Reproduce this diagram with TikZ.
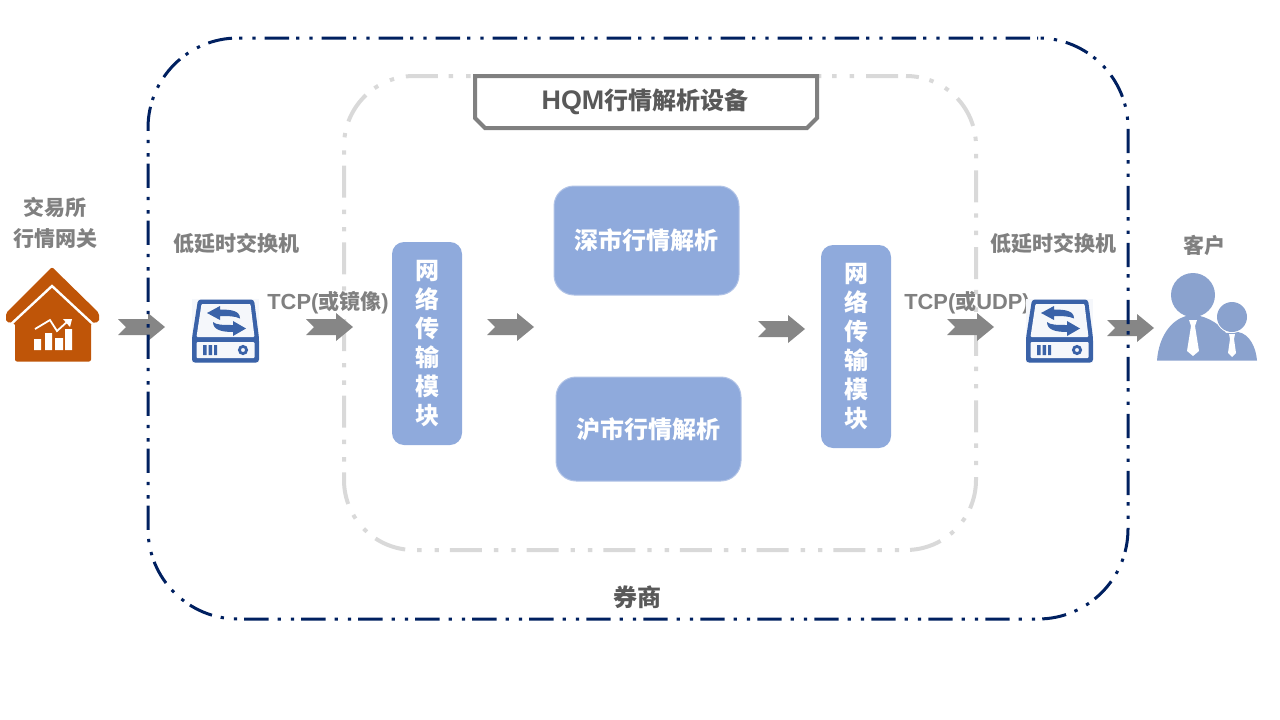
\documentclass[tikz,border=0pt]{standalone}
\usepackage{fontspec}
\setmainfont{Noto Sans CJK SC}
\newfontfamily\latinbold[Scale=1.04]{Liberation Sans}
\newfontfamily\titlebold[Scale=1.12]{Liberation Sans}
\usepackage{tikz}
\definecolor{navyline}{HTML}{002060}
\definecolor{greyline}{HTML}{D9D9D9}
\definecolor{boxblue}{HTML}{8FAADC}
\definecolor{iconblue}{HTML}{3A62A8}
\definecolor{iconpale}{HTML}{F5F7FB}
\definecolor{houseorange}{HTML}{BF5508}
\definecolor{peopleblue}{HTML}{8AA2CE}
\definecolor{arrowgrey}{HTML}{868686}
\tikzset{
    labeltext/.style={text=black!50, font=\fontsize{21}{31}\selectfont\bfseries, inner sep=0pt, align=center},
    darktext/.style={text=black!65, font=\fontsize{24}{30}\selectfont\bfseries, inner sep=0pt},
    modulebox/.style={fill=boxblue, draw=boxblue!70!white, line width=1pt, rounded corners=20pt, text=white, font=\fontsize{24}{30}\selectfont\bfseries, minimum width=185pt, inner sep=0pt},
    stackbox/.style={fill=boxblue, rounded corners=12pt, text=white, font=\fontsize{24}{28.6}\selectfont\bfseries, minimum width=70pt, minimum height=203pt, inner sep=0pt, align=center}
}
\newcommand{\flowarrow}[2]{\fill[arrowgrey, shift={(#1, #2)}] (0,-8) -- (30,-8) -- (30,-14) -- (47,0) -- (30,14) -- (30,8) -- (0,8) -- (8,0) -- cycle}
\newcommand{\switchicon}[1]{
    \begin{scope}[shift={(#1, 0)}]
        \fill[iconpale] (192,299) rectangle (259,363);
        \fill[iconblue, rounded corners=3pt] (198,299.5) -- (254,299.5) -- (259,338) -- (259,362.5) -- (192,362.5) -- (192,338) -- cycle;
        \fill[iconpale, rounded corners=1pt] (201.5,304) -- (250.5,304) -- (254.5,337) -- (196.5,337) -- cycle;
        \fill[iconpale, rounded corners=1pt] (196.5,342) rectangle (254.5,358);
        \fill[iconblue] (207,313) -- (220,306) -- (220,309.5) .. controls (232,309.5) and (240,311) .. (240,318.5) .. controls (235,316) and (228,316) .. (220,316) -- (220,320) -- cycle;
        \fill[iconblue] (246,328.5) -- (233,321) -- (233,325) .. controls (223,325) and (216,325) .. (213,322) .. controls (213,330) and (222,332) .. (233,332) -- (233,336) -- cycle;
        \fill[iconblue] (203,345) rectangle (206.5,355) (208.5,345) rectangle (212,355) (214,345) rectangle (217,355);
        \draw[iconblue, line width=2.8pt] (243,350) circle (3.6);
    \end{scope}
}

\begin{document}
\begin{tikzpicture}[x=1pt, y=-1pt]
    \useasboundingbox (0,0) rectangle (1280,720);
    % inner frame
    \node[draw=greyline, line width=4pt, rounded corners=70pt, minimum width=632pt, minimum height=474pt, dash pattern=on 32pt off 12pt on 4.4pt off 13pt on 4.4pt off 10.9pt, dash phase=68.7pt] (device) at (660,313) {};
    \draw[draw=black!50, fill=white, line width=4pt] (475,76) -- (817,76) -- (817,118) -- (807,128) -- (485,128) -- (475,118) -- cycle;
    \node[darktext] (title) at (645,101.5) {{\titlebold HQM}行情解析设备};
    % flow arrows
    \flowarrow{118}{327};
    \flowarrow{306}{327};
    \flowarrow{487}{327};
    \flowarrow{758}{329};
    \flowarrow{947}{327};
    \flowarrow{1107}{328};
    % outer frame
    \node[draw=navyline, line width=3pt, rounded corners=90pt, minimum width=980pt, minimum height=581pt, dash pattern=on 24.3pt off 9pt on 3.3pt off 10pt on 3.3pt off 7.1pt, dash phase=49pt] (broker) at (638,328.5) {};
    \node[darktext] (brokerlabel) at (637,597) {券商};
    % modules
    \node[stackbox] (netleft) at (427,343.5) {\rule{0pt}{0pt}网\\[0.4pt]络\\[0.4pt]传\\[0.4pt]输\\[0.4pt]模\\[0.4pt]块};
    \node[stackbox] (netright) at (856,346.5) {\rule{0pt}{0pt}网\\[0.4pt]络\\[0.4pt]传\\[0.4pt]输\\[0.4pt]模\\[0.4pt]块};
    \node[modulebox, minimum height=109pt] (shenzhen) at (646.5,240.5) {深市行情解析};
    \node[modulebox, minimum height=104pt] (shanghai) at (648.5,429) {沪市行情解析};
    % labels
    \node[labeltext] (gateway) at (55,223) {交易所\\行情网关};
    \node[labeltext] (switchleft) at (236,243) {低延时交换机};
    \node[labeltext] (switchright) at (1053,243) {低延时交换机};
    \node[labeltext] (client) at (1204,245.5) {客户};
    \node[labeltext] (tcpmirror) at (328,303) {{\latinbold TCP(}或镜像{\latinbold )}};
    \node[labeltext] (tcpudp) at (967,303) {{\latinbold TCP(}或{\latinbold UDP)}};
    % house
    \fill[houseorange, rounded corners=2pt] (52,267) -- (99,313) -- (99,322) -- (91,323) -- (91,361.5) -- (15,361.5) -- (15,323) -- (6,322) -- (6,313) -- cycle;
    \draw[white, line width=2.4pt] (9,326) -- (52,286) -- (95,326);
    \fill[white] (34,339) rectangle (41,350) (45,333) rectangle (52,350) (55,338) rectangle (63,350) (65,329) rectangle (72,350);
    \draw[white, line width=1.8pt] (35,329) -- (50,320) -- (57,331) -- (68,321);
    \fill[white] (72,319) -- (63,319) -- (70,327) -- cycle;
    % switches
    \switchicon{0}
    \switchicon{834}
    % people
    \fill[peopleblue] (1157,360.5) .. controls (1159,335) and (1172,320) .. (1186,316) -- (1200,316) .. controls (1215,320) and (1222,328) .. (1226,333) -- (1238,332) .. controls (1250,334) and (1256,348) .. (1257,360.5) -- cycle;
    \fill[peopleblue] (1193,295) circle (22);
    \draw[white, line width=1pt] (1232,317) circle (15.5);
    \fill[peopleblue] (1232,317) circle (15);
    \fill[white] (1189,320) -- (1197,320) -- (1195,326) -- (1199,351) -- (1193,356) -- (1187,351) -- (1191,326) -- cycle;
    \fill[white] (1229,334) -- (1235,334) -- (1234,339) -- (1236,353) -- (1232,357) -- (1228,353) -- (1230,339) -- cycle;
\end{tikzpicture}
\end{document}
